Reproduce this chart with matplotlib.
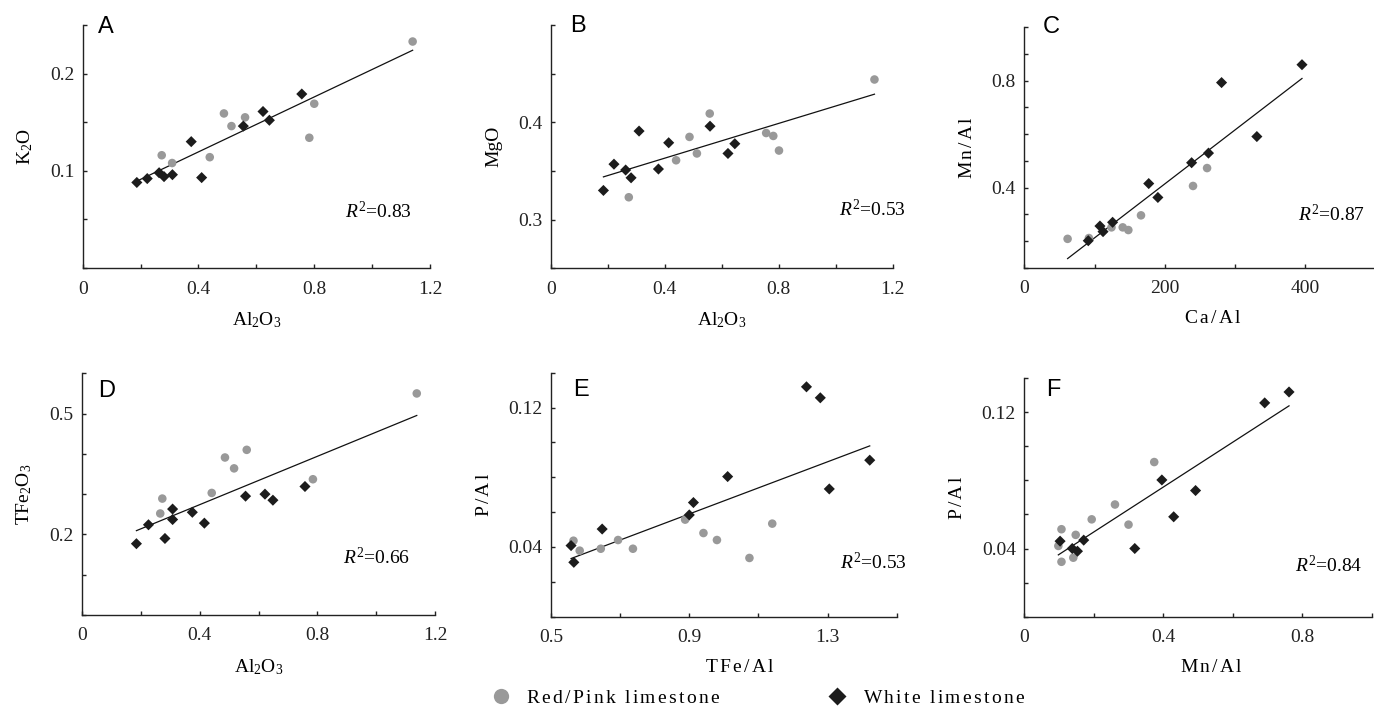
import numpy as np
import matplotlib
matplotlib.use("Agg")
import matplotlib.pyplot as plt
from matplotlib.lines import Line2D

plt.rcParams["font.family"] = "Liberation Serif"
plt.rcParams["mathtext.fontset"] = "custom"
plt.rcParams["mathtext.rm"] = "Liberation Serif"
plt.rcParams["mathtext.it"] = "Liberation Serif:italic"

# ---- data ----
# A: K2O vs Al2O3
a_red_x = [1.140, 0.488, 0.514, 0.561, 0.800, 0.783, 0.273, 0.309, 0.439]
a_red_y = [0.233, 0.159, 0.146, 0.155, 0.169, 0.134, 0.116, 0.108, 0.114]
a_white_x = [0.187, 0.223, 0.264, 0.281, 0.310, 0.375, 0.411, 0.555, 0.623, 0.645, 0.757]
a_white_y = [0.088, 0.092, 0.098, 0.094, 0.096, 0.130, 0.093, 0.146, 0.161, 0.152, 0.179]

# B: MgO vs Al2O3
b_red_x = [1.136, 0.558, 0.487, 0.513, 0.440, 0.756, 0.781, 0.801, 0.274]
b_red_y = [0.444, 0.409, 0.385, 0.368, 0.361, 0.389, 0.386, 0.371, 0.323]
b_white_x = [0.185, 0.222, 0.263, 0.282, 0.310, 0.378, 0.414, 0.559, 0.622, 0.646]
b_white_y = [0.330, 0.357, 0.351, 0.343, 0.391, 0.352, 0.379, 0.396, 0.368, 0.378]

# C: Mn/Al vs Ca/Al
c_red_x = [61.6, 91.9, 124, 140, 148, 166, 240, 260]
c_red_y = [0.208, 0.211, 0.251, 0.251, 0.241, 0.296, 0.406, 0.473]
c_white_x = [91, 107.6, 112, 125.6, 177, 190, 238, 262, 280.6, 330.8, 395]
c_white_y = [0.201, 0.256, 0.235, 0.270, 0.415, 0.363, 0.493, 0.529, 0.793, 0.591, 0.860]

# D: TFe2O3 vs Al2O3
d_red_x = [1.138, 0.560, 0.486, 0.517, 0.441, 0.785, 0.273, 0.266]
d_red_y = [0.550, 0.410, 0.391, 0.364, 0.303, 0.337, 0.289, 0.252]
d_white_x = [0.185, 0.226, 0.282, 0.308, 0.308, 0.375, 0.416, 0.556, 0.622, 0.649, 0.758]
d_white_y = [0.177, 0.224, 0.190, 0.263, 0.237, 0.255, 0.228, 0.295, 0.300, 0.285, 0.319]

# E: P/Al vs TFe/Al
e_red_x = [0.565, 0.583, 0.644, 0.694, 0.737, 0.888, 0.941, 0.980, 1.074, 1.140]
e_red_y = [0.0436, 0.0379, 0.0390, 0.0440, 0.0390, 0.0557, 0.0480, 0.0440, 0.0337, 0.0534]
e_white_x = [1.239, 1.279, 1.422, 1.305, 1.011, 0.912, 0.900, 0.648, 0.558, 0.566]
e_white_y = [0.1319, 0.1256, 0.0898, 0.0733, 0.0804, 0.0655, 0.0584, 0.0503, 0.0408, 0.0312]

# F: P/Al vs Mn/Al
f_red_x = [0.374, 0.261, 0.194, 0.300, 0.107, 0.148, 0.098, 0.107, 0.141]
f_red_y = [0.0907, 0.0658, 0.0571, 0.0540, 0.0513, 0.0480, 0.0415, 0.0322, 0.0346]
f_white_x = [0.762, 0.692, 0.396, 0.493, 0.430, 0.318, 0.171, 0.153, 0.138, 0.103]
f_white_y = [0.1318, 0.1254, 0.0802, 0.0740, 0.0586, 0.0400, 0.0449, 0.0384, 0.0400, 0.0443]

r2_values = ["0.83", "0.53", "0.87", "0.66", "0.53", "0.84"]
panel_letters = ["A", "B", "C", "D", "E", "F"]
series_names = ["Red/Pink limestone", "White limestone"]


def tracked(s):
    # the original labels are set with loose letter spacing
    chars = [r"\ " if ch == " " else ch for ch in s]
    return r"$\mathrm{" + r"\,".join(chars) + "}$"


x_labels = [r"Al$_2$O$_3$", r"Al$_2$O$_3$", tracked("Ca/Al"),
            r"Al$_2$O$_3$", tracked("TFe/Al"), tracked("Mn/Al")]
y_labels = [r"K$_2$O", "MgO", tracked("Mn/Al"), r"TFe$_2$O$_3$", tracked("P/Al"), tracked("P/Al")]

x_ticks = [
    [0, 0.2, 0.4, 0.6, 0.8, 1.0, 1.2],
    [0, 0.2, 0.4, 0.6, 0.8, 1.0, 1.2],
    [0, 100, 200, 300, 400, 500],
    [0, 0.2, 0.4, 0.6, 0.8, 1.0, 1.2],
    [0.5, 0.7, 0.9, 1.1, 1.3, 1.5],
    [0, 0.2, 0.4, 0.6, 0.8, 1.0],
]
x_tick_labels = [
    ["0", "", "0.4", "", "0.8", "", "1.2"],
    ["0", "", "0.4", "", "0.8", "", "1.2"],
    ["0", "", "200", "", "400", ""],
    ["0", "", "0.4", "", "0.8", "", "1.2"],
    ["0.5", "", "0.9", "", "1.3", ""],
    ["0", "", "0.4", "", "0.8", ""],
]
y_ticks = [
    [0, 0.05, 0.1, 0.15, 0.2, 0.25],
    [0.25, 0.3, 0.35, 0.4, 0.45, 0.5],
    [0.1, 0.2, 0.3, 0.4, 0.5, 0.6, 0.7, 0.8, 0.9, 1.0],
    [0, 0.1, 0.2, 0.3, 0.4, 0.5, 0.6],
    [0, 0.02, 0.04, 0.06, 0.08, 0.10, 0.12, 0.14],
    [0, 0.02, 0.04, 0.06, 0.08, 0.10, 0.12, 0.14],
]
y_tick_labels = [
    ["", "", "0.1", "", "0.2", ""],
    ["", "0.3", "", "0.4", "", ""],
    ["", "", "", "0.4", "", "", "", "0.8", "", ""],
    ["", "", "0.2", "", "", "0.5", ""],
    ["", "", "0.04", "", "", "", "0.12", ""],
    ["", "", "0.04", "", "", "", "0.12", ""],
]

red_x = [a_red_x, b_red_x, c_red_x, d_red_x, e_red_x, f_red_x]
red_y = [a_red_y, b_red_y, c_red_y, d_red_y, e_red_y, f_red_y]
white_x = [a_white_x, b_white_x, c_white_x, d_white_x, e_white_x, f_white_x]
white_y = [a_white_y, b_white_y, c_white_y, d_white_y, e_white_y, f_white_y]

# layout (pixels: left, top, right, bottom) on a 1374 x 709 canvas
W, H = 1374, 709
boxes = [
    (82.7, 25, 430, 268),
    (550.7, 25, 892.7, 268.3),
    (1024.3, 27.3, 1375.8, 267.7),
    (82, 373.3, 435, 615),
    (551, 372.7, 896.7, 616.7),
    (1024.3, 378, 1371.7, 616.7),
]
letter_pos = [(0.045, 0.99), (0.056, 0.995), (0.053, 1.0), (0.045, 0.927), (0.064, 0.931), (0.062, 0.95)]
r2_pos = [(0.947, 0.232), (1.04, 0.24), (0.969, 0.22), (0.931, 0.239), (1.029, 0.221), (0.974, 0.214)]
xlabel_x = [0.5, 0.5, 0.537, 0.5, 0.547, 0.54]

grey = "#999999"
black = "#1c1c1c"

fig = plt.figure(figsize=(W / 100, H / 100), dpi=100)

for i in range(6):
    l, t, r, b = boxes[i]
    ax = fig.add_axes([l / W, 1 - b / H, (r - l) / W, (b - t) / H])
    for side in ["top", "right"]:
        ax.spines[side].set_visible(False)
    for side in ["left", "bottom"]:
        ax.spines[side].set_linewidth(1.0)
        ax.spines[side].set_color("#222222")

    # regression line through all points
    xs = np.array(red_x[i] + white_x[i])
    ys = np.array(red_y[i] + white_y[i])
    k, c0 = np.polyfit(xs, ys, 1)
    lx = np.array([xs.min(), xs.max()])
    ax.plot(lx, k * lx + c0, color="#111111", lw=0.9, zorder=2)

    ax.scatter(red_x[i], red_y[i], s=38, color=grey, edgecolors="none", zorder=3)
    ax.scatter(white_x[i], white_y[i], s=32, marker="D", color=black, edgecolors="none", zorder=4)

    ax.set_xlim(x_ticks[i][0], x_ticks[i][-1])
    ax.set_ylim(y_ticks[i][0], y_ticks[i][-1])
    ax.set_xticks(x_ticks[i])
    ax.set_xticklabels(x_tick_labels[i])
    ax.set_yticks(y_ticks[i])
    ax.set_yticklabels(y_tick_labels[i])
    ax.tick_params(direction="in", length=3, width=1, labelsize=14, colors="#222222")
    ax.tick_params(axis="x", pad=9)
    ax.tick_params(axis="y", pad=6)

    ax.set_xlabel(x_labels[i], fontsize=14, labelpad=9)
    ax.xaxis.label.set_x(xlabel_x[i])
    ax.set_ylabel(y_labels[i], fontsize=14, labelpad=11)

    ax.text(letter_pos[i][0], letter_pos[i][1], panel_letters[i], transform=ax.transAxes,
            family="Liberation Sans", fontsize=17, ha="left", va="center")
    ax.text(r2_pos[i][0], r2_pos[i][1], r"$\it{R}^{2}$=" + r2_values[i], transform=ax.transAxes,
            fontsize=14, ha="right", va="center", clip_on=False)

handles = [
    Line2D([], [], ls="none", marker="o", ms=11, color=grey, mec="none"),
    Line2D([], [], ls="none", marker="D", ms=9, color=black, mec="none"),
]
fig.legend(handles=handles, labels=[tracked(n) for n in series_names],
           loc="center left", bbox_to_anchor=(0.352, 0.0155), ncol=2, frameon=False,
           fontsize=14, handlelength=1.0, handletextpad=0.8, columnspacing=5.5,
           borderaxespad=0)

fig.savefig("out.png", dpi=100)
